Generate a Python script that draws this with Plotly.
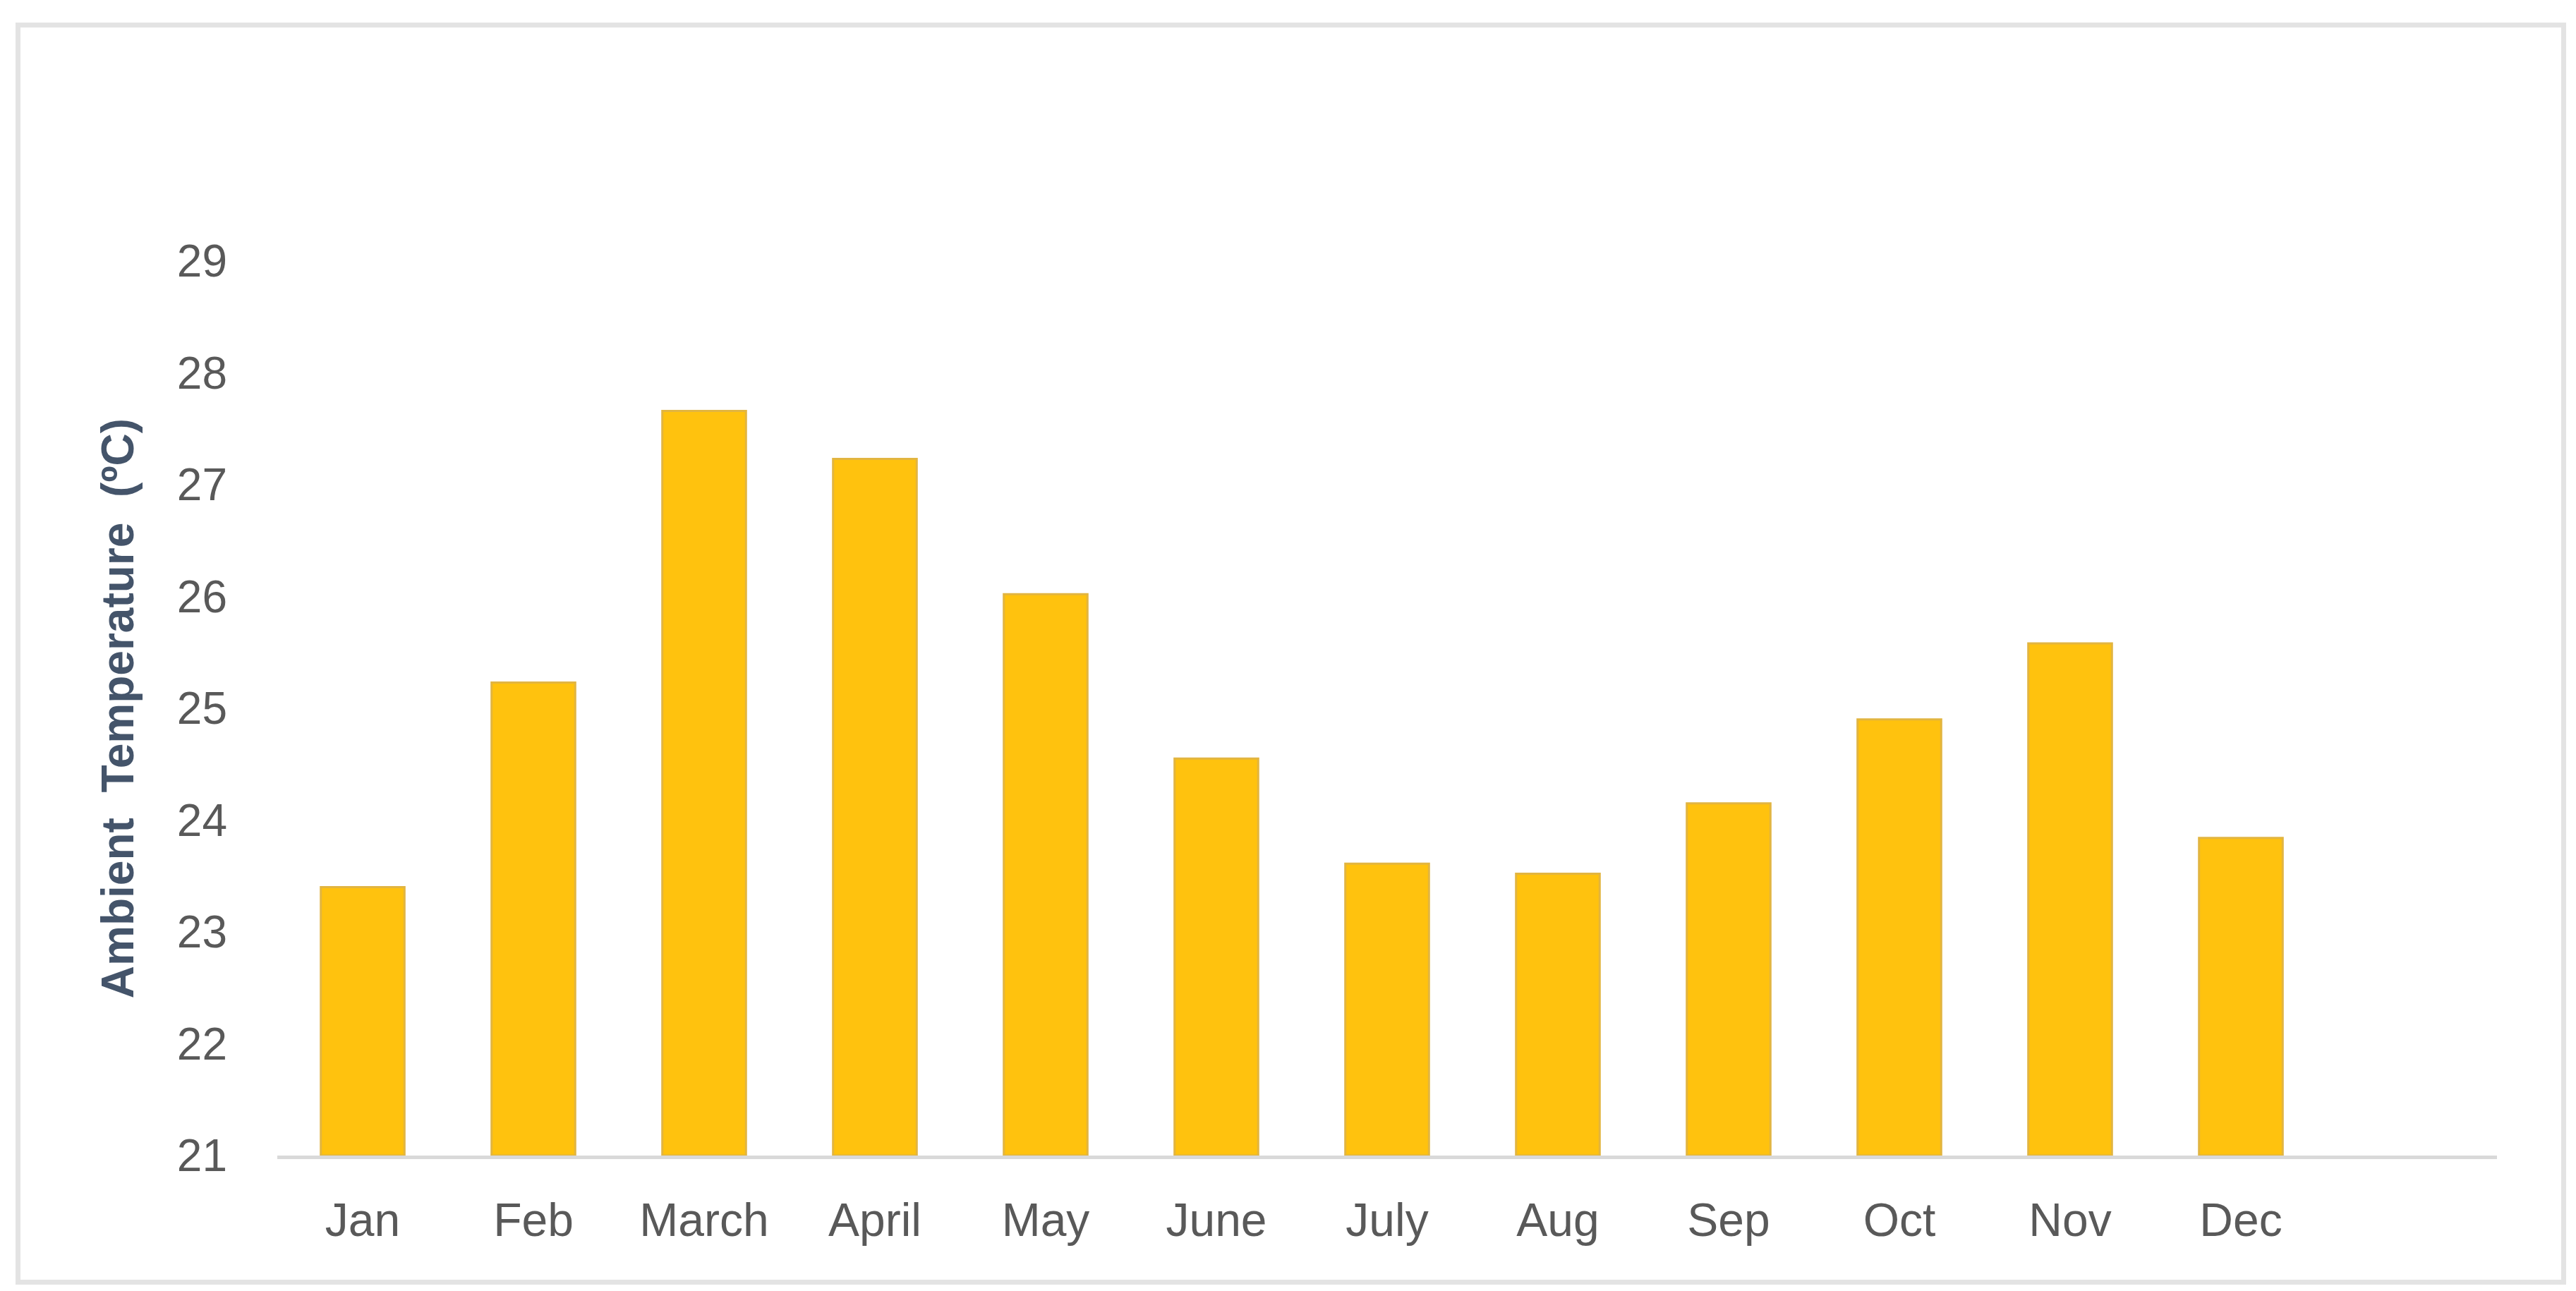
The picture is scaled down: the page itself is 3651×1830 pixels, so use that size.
import plotly.graph_objects as go

months = ["Jan", "Feb", "March", "April", "May", "June", "July", "Aug", "Sep", "Oct", "Nov", "Dec"]
temps = [23.40, 25.23, 27.66, 27.23, 26.02, 24.55, 23.61, 23.52, 24.15, 24.90, 25.58, 23.84]
y_ticks = [21, 22, 23, 24, 25, 26, 27, 28, 29]

W, H = 3651, 1830
L, R, T, B = 385, 120, 362, 200
PW, PH = W - L - R, H - T - B

fig = go.Figure()
fig.add_trace(go.Bar(
    x=list(range(len(months))),
    y=[v - 21 for v in temps],
    base=21,
    width=0.49,
    marker=dict(color="#FFC20E", line=dict(color="#E2B540", width=3)),
    hoverinfo="skip",
))

def px_to_paper_x(px):
    return (px - L) / PW

def px_to_paper_y(py):
    return (H - B - py) / PH

fig.update_layout(
    width=W, height=H,
    margin=dict(l=L, r=R, t=T, b=B),
    paper_bgcolor="white", plot_bgcolor="white",
    showlegend=False,
    font=dict(family="Liberation Sans, Arial, sans-serif", color="#595959"),
    shapes=[dict(
        type="rect", xref="paper", yref="paper",
        x0=px_to_paper_x(17.5), x1=px_to_paper_x(3625.5),
        y0=px_to_paper_y(1809.5), y1=px_to_paper_y(27.5),
        line=dict(color="#E3E3E3", width=7), fillcolor="rgba(0,0,0,0)", layer="below",
    )],
)
fig.update_xaxes(
    range=[-0.5, 12.5],
    tickmode="array", tickvals=list(range(len(months))), ticktext=months,
    tickfont=dict(size=66, color="#595959"),
    showline=True, linecolor="#D9D9D9", linewidth=5,
    showgrid=False, zeroline=False, ticks="",
    ticklabelstandoff=30,
)
fig.update_yaxes(
    range=[21, 29],
    tickmode="array", tickvals=y_ticks, ticktext=[str(v) for v in y_ticks],
    tickfont=dict(size=64, color="#595959"),
    showline=False, showgrid=False, zeroline=False, ticks="",
    ticklabelstandoff=70,
    title=dict(text="Ambient  Temperature  (ºC)", font=dict(size=64, color="#44546A", family="Liberation Sans, Arial, sans-serif", weight="bold"), standoff=40),
)

fig.write_html("out.html")
